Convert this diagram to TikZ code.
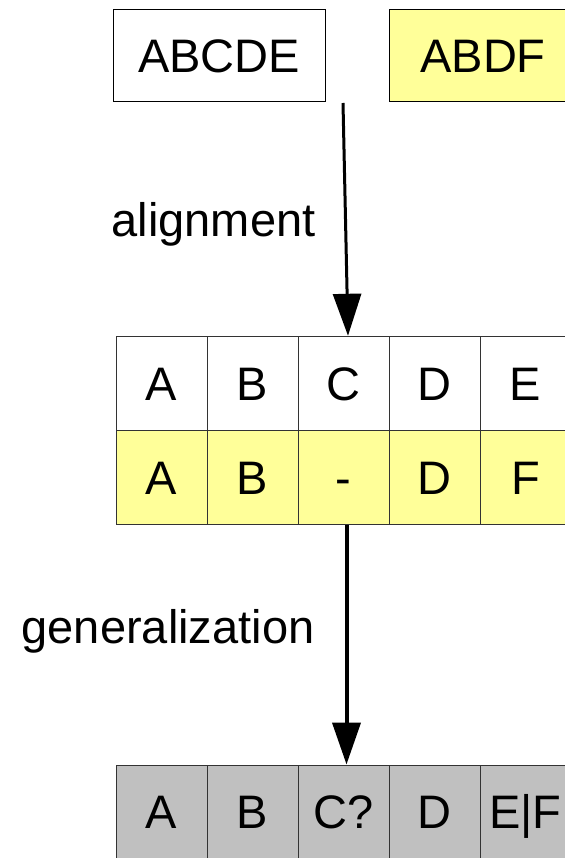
\documentclass[tikz,border=0pt]{standalone}
\usepackage{fontspec}
\setmainfont{Liberation Sans}
\usetikzlibrary{arrows.meta}
\definecolor{seqyellow}{HTML}{FFFF99}
\definecolor{gengray}{HTML}{C0C0C0}
\tikzset{
  big/.style={font=\fontsize{47}{56}\selectfont},
  seqbox/.style={big, draw=black, line width=1pt, inner sep=0pt,
    minimum width=212pt, minimum height=92pt, text height=33.7pt, text depth=0pt},
  cell/.style={big, draw=black!80, line width=1pt, inner sep=0pt,
    minimum width=91pt, minimum height=94pt, text height=33.7pt, text depth=0pt},
  label/.style={big, inner sep=0pt, anchor=base west},
  flow/.style={-{Triangle[width=28pt,length=42pt]}},
}
\begin{document}
\begin{tikzpicture}[x=1pt,y=-1pt]
\useasboundingbox (0,0) rectangle (564,858);

% input sequences
\node[seqbox] (s1) at (219,55.3) {ABCDE};
\node[seqbox, fill=seqyellow, minimum width=188pt] (s2) at (483,55.3) {ABDF};

% alignment table: columns at x = 116 + 91 k
\foreach \t [count=\i] in {A,B,C,D,E}
  \node[cell] (a\i) at ({116+91*(\i-1)+45.5},383.3) {\t};
\foreach \t [count=\i] in {A,B,-,D,F}
  \node[cell, fill=seqyellow] (b\i) at ({116+91*(\i-1)+45.5},477.7) {\t};

% generalized pattern
\foreach \t [count=\i] in {A,B,C?,D,E|F}
  \node[cell, fill=gengray] (g\i) at ({116+91*(\i-1)+45.5},812) {\t};

% step labels
\node[label] (lalign) at (111.5,236.7) {alignment};
\node[label] (lgen) at (21.5,643) {generalization};

% arrows
\coordinate (astart) at (343,103);
\coordinate (aend) at ([xshift=4.5pt]a3.north);
\draw[flow, line width=3pt] (astart) -- (aend);
\draw[flow, line width=4pt] ([xshift=3pt]b3.south) -- ([xshift=3pt]g3.north);
\end{tikzpicture}
\end{document}
